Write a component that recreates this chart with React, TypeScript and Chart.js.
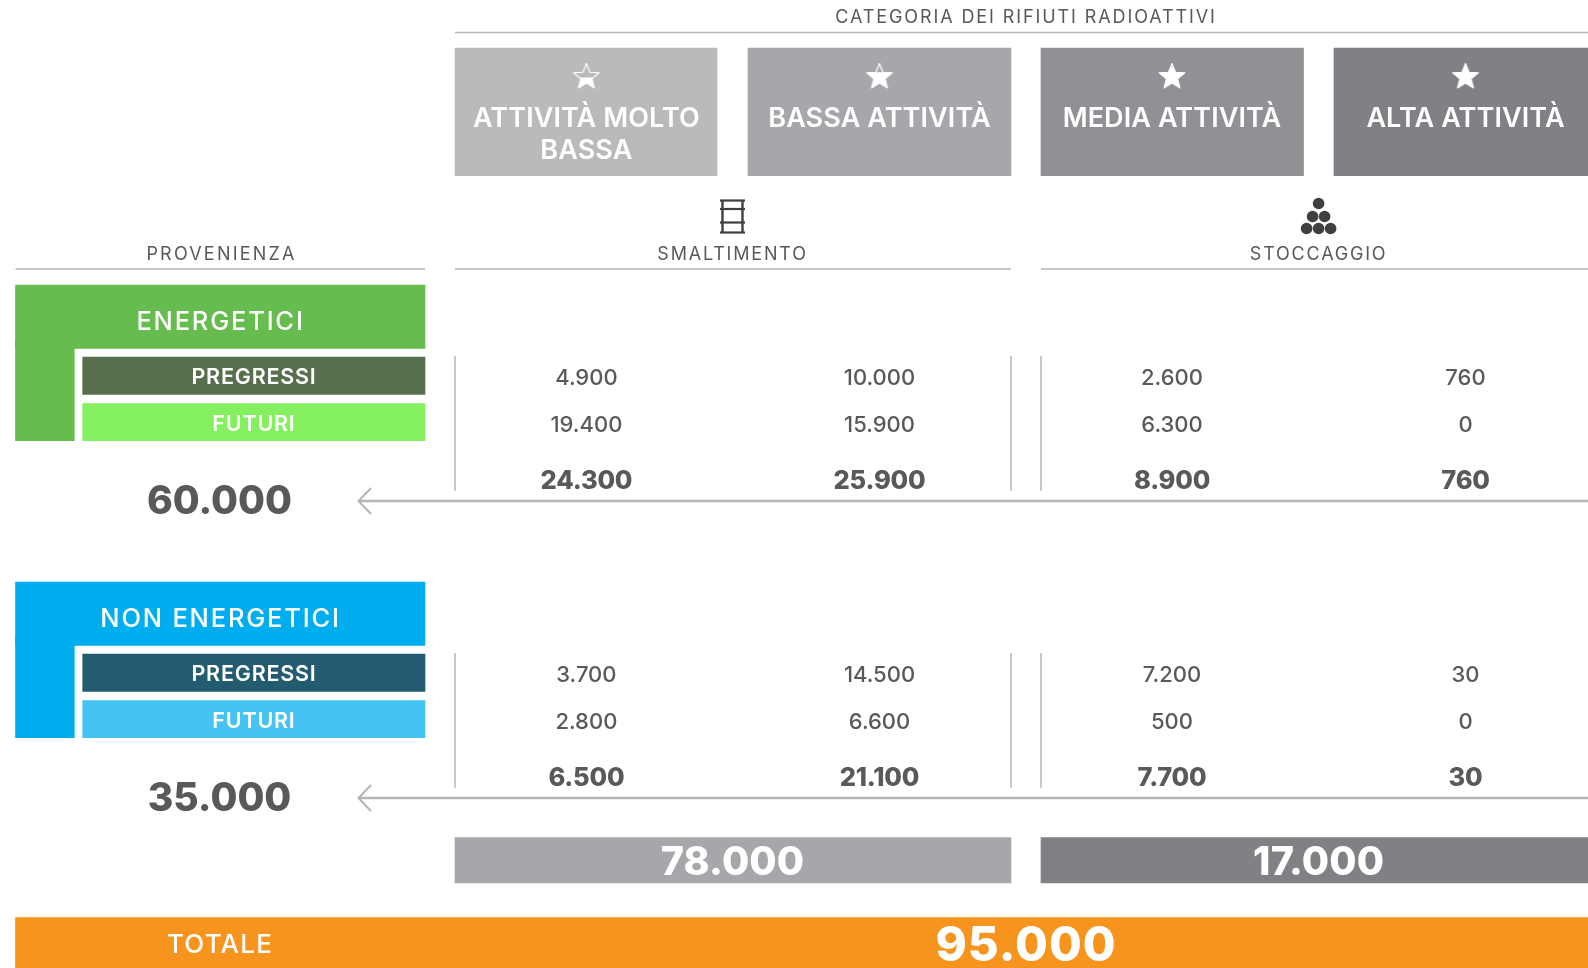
import React, { useEffect, useRef } from "react";
import { Chart, registerables } from "chart.js";

Chart.register(...registerables);

// ---- data ----
const categories = ["ATTIVITÀ MOLTO\nBASSA", "BASSA ATTIVITÀ", "MEDIA ATTIVITÀ", "ALTA ATTIVITÀ"];
const sources = ["ENERGETICI", "NON ENERGETICI"];
const subRows = ["PREGRESSI", "FUTURI"];
const energeticiPregressi = [4900, 10000, 2600, 760];
const energeticiFuturi = [19400, 15900, 6300, 0];
const energeticiTotali = [24300, 25900, 8900, 760];
const nonEnergeticiPregressi = [3700, 14500, 7200, 30];
const nonEnergeticiFuturi = [2800, 6600, 500, 0];
const nonEnergeticiTotali = [6500, 21100, 7700, 30];
const sourceTotals = [60000, 35000];
const destinations = ["SMALTIMENTO", "STOCCAGGIO"];
const destinationTotals = [78000, 17000];
const grandTotal = 95000;

// ---- layout and style ----
const W = 1588;
const H = 968;
const FONT = "Inter, 'Open Sans', sans-serif";
const RULE = "#b4b5b6";
const DARK = "#58595b";
const colEdges = [[455, 717], [748, 1011], [1041, 1303.5], [1334, 1600]];
const colCenters = [586.4, 879.5, 1172, 1465.5];
const destEdges = [[455, 1011], [1041, 1600]];
const destCenters = [732.5, 1318.6];
const boxColors = ["#b9babc", "#a6a7aa", "#909194", "#808184"];
const starHollow = [0.56, 0.36, 0.14, 0];
const blockOffsets = [0, 297];
const blockColors = [
  { main: "#66bc4e", past: "#586f4d", future: "#84f05f" },
  { main: "#00aeef", past: "#235b70", future: "#45c3f3" },
];

const fmt = (n: number) => String(n).replace(/\B(?=(\d{3})+(?!\d))/g, ".");

function starCanvas(hollow: number) {
  const S = 32;
  const c = document.createElement("canvas");
  c.width = S;
  c.height = S;
  const g = c.getContext("2d")!;
  const path = () => {
    g.beginPath();
    for (let i = 0; i < 10; i++) {
      const r = i % 2 === 0 ? 13.5 : 5.9;
      const a = -Math.PI / 2 + (i * Math.PI) / 5;
      const px = S / 2 + r * Math.cos(a);
      const py = S / 2 + 1 + r * Math.sin(a);
      if (i === 0) g.moveTo(px, py);
      else g.lineTo(px, py);
    }
    g.closePath();
  };
  g.strokeStyle = "#ffffff";
  g.fillStyle = "#ffffff";
  g.lineWidth = 1.2;
  g.lineJoin = "round";
  path();
  g.stroke();
  g.save();
  g.beginPath();
  g.rect(0, 3 + hollow * 26, S, S);
  g.clip();
  path();
  g.fill();
  g.restore();
  return c;
}

type Txt = { x: number; y: number; t: string; font: string; color: string; ls?: number };

function buildTexts(): Txt[] {
  const out: Txt[] = [];
  const small = `400 18px ${FONT}`;
  out.push({ x: 1026, y: 18, t: "CATEGORIA DEI RIFIUTI RADIOATTIVI", font: small, color: DARK, ls: 1.9 });
  out.push({ x: 221.5, y: 254.5, t: "PROVENIENZA", font: small, color: DARK, ls: 2.2 });
  destinations.forEach((d, i) => out.push({ x: destCenters[i], y: 254.5, t: d, font: small, color: DARK, ls: 1.8 }));
  categories.forEach((c, i) => {
    c.split("\n").forEach((line, k) =>
      out.push({ x: colCenters[i], y: 119 + k * 32, t: line, font: `600 27px ${FONT}`, color: "#ffffff", ls: 0.1 }),
    );
  });
  const rowsByBlock = [
    [energeticiPregressi, energeticiFuturi, energeticiTotali],
    [nonEnergeticiPregressi, nonEnergeticiFuturi, nonEnergeticiTotali],
  ];
  sources.forEach((s, b) => {
    const o = blockOffsets[b];
    out.push({ x: 220.5, y: 322.5 + o, t: s, font: `500 25.5px ${FONT}`, color: "#ffffff", ls: 1.8 });
    subRows.forEach((r, k) =>
      out.push({ x: 254, y: (k === 0 ? 378 : 424.5) + o, t: r, font: `600 21.5px ${FONT}`, color: "#ffffff", ls: 0.8 }),
    );
    out.push({ x: 219.5, y: 502.5 + o, t: fmt(sourceTotals[b]), font: `800 39px ${FONT}`, color: "#58595b", ls: 0 });
    [378.7, 425, 481].forEach((y, r) => {
      rowsByBlock[b][r].forEach((v, c) => {
        out.push({
          x: colCenters[c],
          y: y + o,
          t: fmt(v),
          font: r === 2 ? `800 25.5px ${FONT}` : `500 22px ${FONT}`,
          color: DARK,
          ls: r === 2 ? -0.2 : 0,
        });
      });
    });
  });
  destinationTotals.forEach((v, i) =>
    out.push({ x: destCenters[i], y: 863, t: fmt(v), font: `800 39.5px ${FONT}`, color: "#ffffff", ls: 0.1 }),
  );
  out.push({ x: 220, y: 945, t: "TOTALE", font: `500 26px ${FONT}`, color: "#ffffff", ls: 1.2 });
  out.push({ x: 1026, y: 947, t: fmt(grandTotal), font: `800 47.5px ${FONT}`, color: "#ffffff", ls: 1 });
  return out;
}

const textPlugin = {
  id: "tableText",
  afterDatasetsDraw(chart: any) {
    const { ctx, scales } = chart;
    ctx.save();
    ctx.textAlign = "center";
    ctx.textBaseline = "middle";
    for (const t of buildTexts()) {
      ctx.font = t.font;
      ctx.fillStyle = t.color;
      ctx.letterSpacing = `${t.ls ?? 0}px`;
      ctx.fillText(t.t, scales.x.getPixelForValue(t.x), scales.y.getPixelForValue(t.y));
    }
    ctx.restore();
  },
};

function rect(x0: number, x1: number, y0: number, y1: number, color: string) {
  return {
    type: "bar",
    order: 5,
    grouped: false,
    data: [{ x: (x0 + x1) / 2, y: [y0, y1] }],
    barThickness: x1 - x0,
    backgroundColor: color,
    borderWidth: 0,
  };
}
function line(pts: number[][], color = RULE, width = 1.6) {
  return {
    type: "line",
    order: 2,
    data: pts.map(([x, y]) => ({ x, y })),
    borderColor: color,
    borderWidth: width,
    pointRadius: 0,
    fill: false,
    tension: 0,
  };
}
function dots(pts: number[][], style: any, radius: number, color = "#3f3f41") {
  return {
    type: "scatter",
    order: 1,
    data: pts.map(([x, y]) => ({ x, y })),
    pointStyle: style,
    pointRadius: radius,
    backgroundColor: color,
    borderWidth: 0,
  };
}

function buildDatasets() {
  const ds: any[] = [];
  // header boxes and stars
  colEdges.forEach(([a, b], i) => {
    ds.push(rect(a, b, 48, 175.7, boxColors[i]));
    ds.push(dots([[colCenters[i], 76]], starCanvas(starHollow[i]), 16));
  });
  // header rules
  ds.push(line([[455, 32.5], [W, 32.5]]));
  ds.push(line([[15.5, 269], [425, 269]]));
  destEdges.forEach(([a, b]) => ds.push(line([[a, 269], [Math.min(b, W), 269]])));
  // barrel icon
  const bx = destCenters[0];
  const ic = "#3f3f41";
  [200.5, 209, 222.5, 232.5].forEach((y) => ds.push(line([[bx - 12.5, y], [bx + 12.5, y]], ic, 2.2)));
  ds.push(line([[bx - 10, 200], [bx - 10, 233]], ic, 2.4));
  ds.push(line([[bx + 10, 200], [bx + 10, 233]], ic, 2.4));
  // pile of drums icon
  const sx = destCenters[1];
  ds.push(dots([[sx, 203.5], [sx - 6, 216.5], [sx + 6, 216.5], [sx - 12, 228.5], [sx, 228.5], [sx + 12, 228.5]], "circle", 5.8));
  // source blocks
  blockOffsets.forEach((o, b) => {
    const c = blockColors[b];
    ds.push(rect(15.5, 425, 285 + o, 348.3 + o, c.main));
    ds.push(rect(15.5, 74.3, 340 + o, 440.7 + o, c.main));
    ds.push(rect(82.7, 425, 357 + o, 394.3 + o, c.past));
    ds.push(rect(82.7, 425, 403.7 + o, 440.7 + o, c.future));
    [455, 1011, 1041].forEach((x) => ds.push(line([[x, 356 + o], [x, 490.7 + o]], RULE, 1.5)));
    ds.push(line([[358.5, 501 + o], [W, 501 + o]], RULE, 2.6));
    ds.push(line([[371, 488 + o], [358.5, 501 + o], [371, 514 + o]], RULE, 2));
  });
  // destination totals and grand total bars
  destEdges.forEach(([a, b], i) => ds.push(rect(a, b, 837.5, 883, i === 0 ? "#a6a7aa" : "#808184")));
  ds.push(rect(15.5, 1600, 917.7, 975, "#f7941e"));
  return ds;
}

export default function App() {
  const ref = useRef<HTMLCanvasElement>(null);
  useEffect(() => {
    document.body.style.margin = "0";
    document.body.style.background = "#ffffff";
    const chart = new Chart(ref.current!, {
      type: "bar",
      data: { datasets: buildDatasets() },
      options: {
        animation: false,
        responsive: false,
        devicePixelRatio: 1,
        layout: { padding: 0, autoPadding: false },
        events: [],
        plugins: { legend: { display: false }, tooltip: { enabled: false }, title: { display: false } },
        scales: {
          x: { type: "linear", min: 0, max: W, display: false, offset: false },
          y: { type: "linear", min: 0, max: H, reverse: true, display: false },
        },
      },
      plugins: [textPlugin],
    } as any);
    return () => chart.destroy();
  }, []);
  return <canvas ref={ref} width={W} height={H} style={{ display: "block" }} />;
}
